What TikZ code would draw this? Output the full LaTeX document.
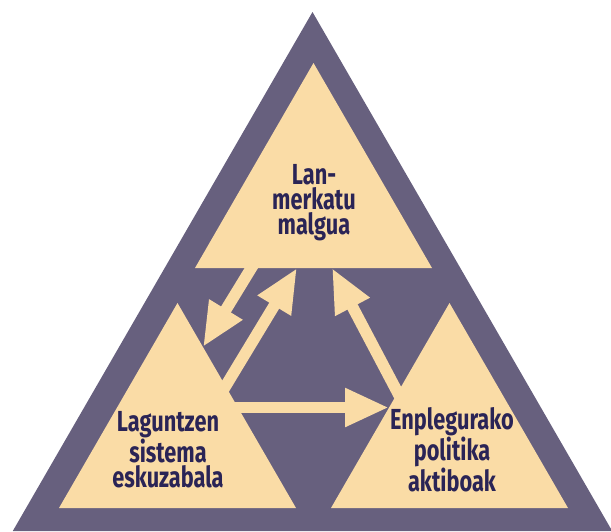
\documentclass[tikz,border=0pt]{standalone}
\usepackage{fontspec}
\setmainfont{Fira Sans}[FakeStretch=0.75]
\usetikzlibrary{arrows.meta}
\definecolor{frame}{HTML}{67607E}
\definecolor{cream}{HTML}{FADCA6}
\definecolor{ink}{HTML}{2A2456}
\tikzset{
  corner/.style={fill=cream},
  label/.style={text=ink, align=center, inner sep=0pt,
    font=\fontsize{29}{25}\selectfont\bfseries},
  flow/.style={draw=cream, line width=11.5pt,
    -{Triangle[length=44pt,width=36pt]}},
}
\begin{document}
\begin{tikzpicture}[x=1pt,y=-1pt]
\useasboundingbox (0,0) rectangle (611,531);
% outer frame
\fill[frame] (312.5,12) -- (612.2,531) -- (12.8,531) -- cycle;
% three inner triangles
\fill[corner] (313.5,63) -- (432,268) -- (195,268) -- cycle;
\fill[corner] (177.5,303) -- (296,508) -- (59,508) -- cycle;
\fill[corner] (449.5,303) -- (568,508) -- (331,508) -- cycle;
% arrow end points
\coordinate (topL) at (255,262);
\coordinate (leftTip) at (203,347);
\coordinate (leftOut) at (222,392);
\coordinate (topM) at (297,268);
\coordinate (rightOut) at (400,397);
\coordinate (topR) at (332,268);
\coordinate (leftR) at (232,407.5);
\coordinate (rightTip) at (389,407.5);
\draw[flow] (topL) -- (leftTip);
\draw[flow] (leftOut) -- (topM);
\draw[flow] (rightOut) -- (topR);
\draw[flow] (leftR) -- (rightTip);
% labels
\node[label] (lan) at (314,203) {Lan-\\merkatu\\malgua};
\node[label] (lag) at (168,450) {Laguntzen\\sistema\\eskuzabala};
\node[label] (enp) at (452,450) {Enplegurako\\politika\\aktiboak};
\end{tikzpicture}
\end{document}
